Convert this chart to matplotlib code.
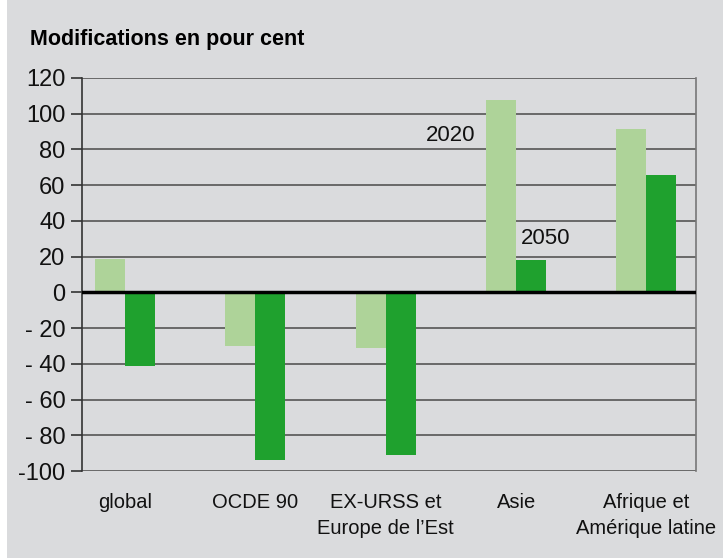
import matplotlib.pyplot as plt
import numpy as np
from matplotlib.patches import Rectangle
from matplotlib import font_manager

regions = ["global", "OCDE 90", "EX-URSS et\nEurope de l\u2019Est", "Asie", "Afrique et\nAm\u00e9rique latine"]
vals_2020 = [18.5, -30, -31, 107.5, 91.5]
vals_2050 = [-41, -94, -91, 18, 65.5]
yticks = [120, 100, 80, 60, 40, 20, 0, -20, -40, -60, -80, -100]
ytick_labels = ["120", "100", "80", "60", "40", "20", "0", "- 20", "- 40", "- 60", "- 80", "-100"]

names = {f.name for f in font_manager.fontManager.ttflist}
fam = "Liberation Sans Narrow" if "Liberation Sans Narrow" in names else "Liberation Sans"
plt.rcParams['font.family'] = [fam, 'DejaVu Sans']

BG = "#dadbdd"
LIGHT = "#aed399"
DARK = "#1fa12e"

fig = plt.figure(figsize=(7.23, 5.59), dpi=100)
fig.patches.append(Rectangle((7/723, 1/559), 1, 1, transform=fig.transFigure,
                             facecolor=BG, edgecolor="none", zorder=-10))

ax = fig.add_axes([82/723, 1 - 471/559, (696 - 82)/723, (471 - 78)/559])
ax.set_facecolor(BG)

x = np.arange(len(regions))
w = 0.23
ax.bar(x - w/2, vals_2020, width=w, color=LIGHT, zorder=3)
ax.bar(x + w/2, vals_2050, width=w, color=DARK, zorder=3)

ax.set_xlim(-0.33, 4.38)
ax.set_ylim(-100, 120)
ax.set_yticks(yticks)
ax.set_yticklabels(ytick_labels, fontsize=17, color="#111111")
ax.tick_params(axis="y", length=8, width=1.2, color="#333333", pad=4)
ax.set_xticks(x)
ax.set_xticklabels(regions, fontsize=14.5, color="#111111", linespacing=1.45)
ax.tick_params(axis="x", length=0, pad=16)

for yv in yticks:
    ax.axhline(yv, color="#555555", lw=1.2, zorder=1)
ax.axhline(0, color="black", lw=2.5, zorder=4)

for s in ["top", "bottom"]:
    ax.spines[s].set_visible(False)
ax.spines["left"].set_color("#333333")
ax.spines["left"].set_linewidth(1.2)
ax.spines["right"].set_color("#777777")
ax.spines["right"].set_linewidth(1.2)

ax.text(2.5, 88, "2020", fontsize=16, ha="center", va="center", color="#111111", zorder=5)
ax.text(3.23, 30, "2050", fontsize=16, ha="center", va="center", color="#111111", zorder=5)

fig.text(30/723, 1 - 40/559, "Modifications en pour cent", fontsize=15.5, fontweight="bold",
         ha="left", va="center", color="black")

fig.savefig("out.png", dpi=100, facecolor="white")
